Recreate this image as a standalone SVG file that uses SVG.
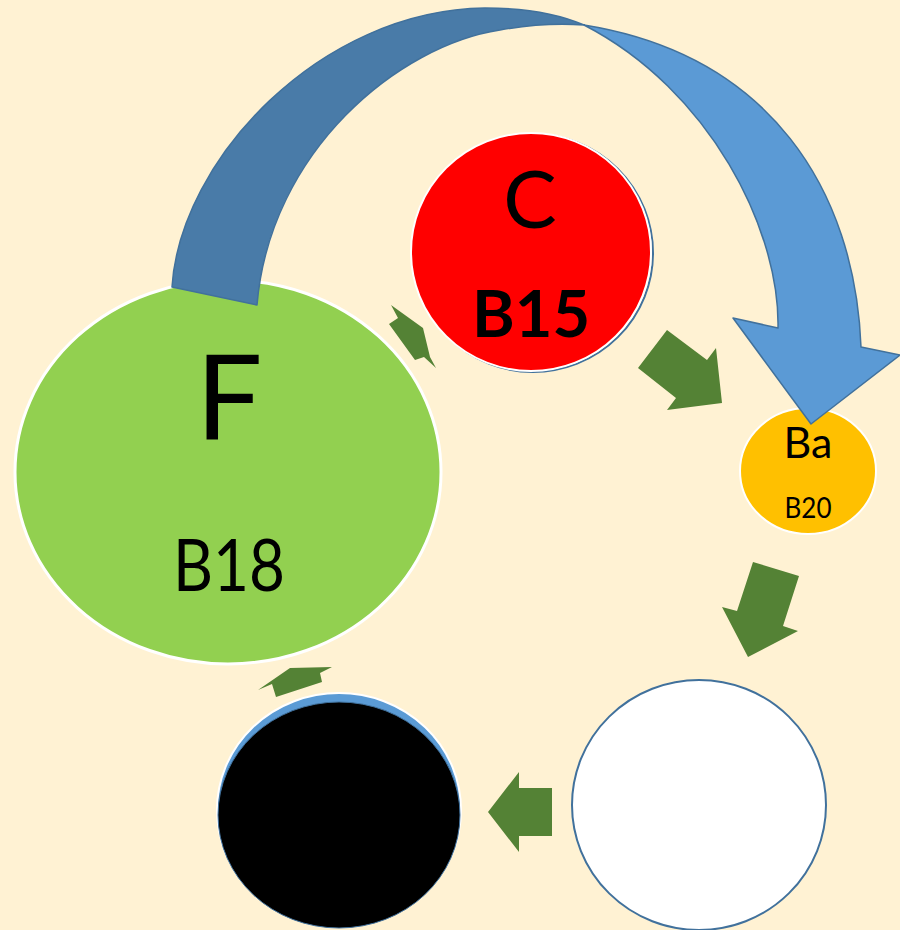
<svg xmlns="http://www.w3.org/2000/svg" width="900" height="930" viewBox="0 0 900 930">
<style>
.lbl{font-family:Lato,"Liberation Sans",sans-serif;fill:#000;text-anchor:middle}
.g{fill:#548235}
</style>
<rect x="0" y="0" width="900" height="930" fill="#FFF2D3"/>
<g id="node-F">
<ellipse cx="228" cy="472" rx="213" ry="192" fill="#92D050" stroke="#FFFFFF" stroke-width="3"/>
<text class="lbl" x="229" y="440" font-size="118">F</text>
<text class="lbl" x="229" y="591" font-size="72" textLength="112" lengthAdjust="spacingAndGlyphs">B18</text>
</g>
<g id="node-C">
<ellipse cx="533" cy="253" rx="120" ry="119" fill="none" stroke="#41719C" stroke-width="2"/>
<ellipse cx="531" cy="252" rx="120" ry="119" fill="#FF0000" stroke="#FFFFFF" stroke-width="2"/>
<text class="lbl" x="530" y="228" font-size="80">C</text>
<text class="lbl" x="531" y="337" font-size="65" font-weight="bold">B15</text>
</g>
<g id="node-Ba">
<ellipse cx="808" cy="471" rx="68" ry="63" fill="#FFC000" stroke="#FFFFFF" stroke-width="2"/>
<text class="lbl" x="808" y="458" font-size="43">Ba</text>
<text class="lbl" x="808" y="518" font-size="29" textLength="47" lengthAdjust="spacingAndGlyphs">B20</text>
</g>
<g id="node-white">
<ellipse cx="699" cy="805" rx="127" ry="125" fill="#FFFFFF" stroke="#41719C" stroke-width="2"/>
</g>
<g id="node-black">
<ellipse cx="339" cy="810" rx="122" ry="117" fill="#5B9BD5" stroke="#FFFFFF" stroke-width="2"/>
<ellipse cx="339" cy="815" rx="121" ry="113" fill="#000000" stroke="#41719C" stroke-width="1"/>
</g>
<g id="connectors">
<path d="M172,287 C180,160 320,10 485,8 Q545,8 584,25 Q545,22 500,30 C400,45 270,150 257,305 Z" fill="#497BA8" stroke="#41719C" stroke-width="1.5" stroke-linejoin="round"/>
<path d="M584,25 C770,55 855,190 861,347 L900,355 L811,424 L733,318 L778,328 C780,230 710,90 584,25 Z" fill="#5B9AD5" stroke="#41719C" stroke-width="1.5" stroke-linejoin="round"/>
<polygon class="g" points="391,305 423,328 430,357 436,368 424,357 415,360 389,324 398,318"/>
<polygon class="g" points="667,330 707,360 716,348 722,403 667,410 676,398 638,368"/>
<polygon class="g" points="753,562 799,576 783,626 798,631 748,657 722,607 737,611"/>
<polygon class="g" points="519,772 519,788 552,788 552,836 519,836 519,852 488,812"/>
<polygon class="g" points="258,690 290,668 332,667 320,673 322,682 276,697 272,684"/>
</g>
</svg>
